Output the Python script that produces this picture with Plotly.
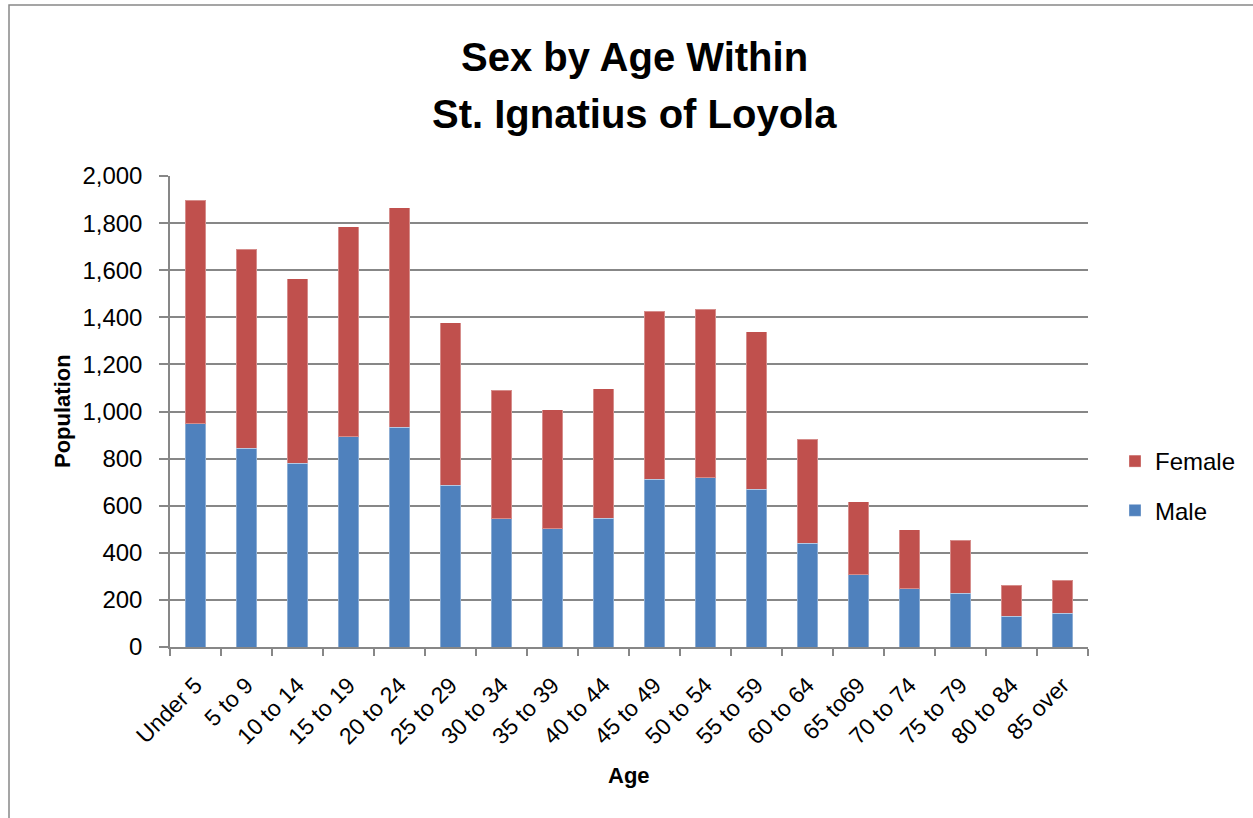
import plotly.graph_objects as go

categories = ["Under 5", "5 to 9", "10 to 14", "15 to 19", "20 to 24", "25 to 29",
              "30 to 34", "35 to 39", "40 to 44", "45 to 49", "50 to 54", "55 to 59",
              "60 to 64", "65 to69", "70 to 74", "75 to 79", "80 to 84", "85 over"]
male = [948, 845, 780, 892, 933, 687, 545, 502, 546, 712, 718, 670, 440, 307, 248, 228, 130, 143]
female = [949, 845, 783, 893, 933, 689, 546, 506, 550, 713, 717, 669, 443, 309, 249, 225, 132, 140]

title_lines = ["Sex by Age Within", "St. Ignatius of Loyola"]
y_ticks = [0, 200, 400, 600, 800, 1000, 1200, 1400, 1600, 1800, 2000]

FONT = "Liberation Sans, Arial, sans-serif"
GRID = "#878787"

fig = go.Figure()
fig.add_trace(go.Bar(x=categories, y=male, name="Male", legendgroup="m", legendrank=2,
                     marker=dict(color="#4F81BD", line=dict(color="rgba(255,255,255,0.35)", width=1))))
fig.add_trace(go.Bar(x=categories, y=female, name="Female", legendgroup="f", legendrank=1,
                     marker=dict(color="#C0504D", line=dict(color="rgba(255,255,255,0.35)", width=1))))

W, H = 1253, 818
L, R, T, B = 170, 1088, 176, 647
pw, ph = R - L, B - T

def px2x(p):
    return (p - L) / pw

def px2y(p):
    return (B - p) / ph

annotations = []
for txt, yp in zip(title_lines, [57, 114]):
    annotations.append(dict(text=f"<b>{txt}</b>", x=px2x(634), y=px2y(yp), xref="paper", yref="paper",
                            xanchor="center", yanchor="middle", showarrow=False,
                            font=dict(family=FONT, size=40, color="#000")))
annotations.append(dict(text="<b>Population</b>", x=px2x(62), y=px2y(411), xref="paper", yref="paper",
                        xanchor="center", yanchor="middle", showarrow=False, textangle=-90,
                        font=dict(family=FONT, size=22, color="#000")))
annotations.append(dict(text="<b>Age</b>", x=px2x(629), y=px2y(775), xref="paper", yref="paper",
                        xanchor="center", yanchor="middle", showarrow=False,
                        font=dict(family=FONT, size=22, color="#000")))

fig.update_layout(
    width=W, height=H,
    margin=dict(l=L, r=W - R, t=T, b=H - B, autoexpand=False),
    paper_bgcolor="white", plot_bgcolor="white",
    barmode="stack", bargap=0.6,
    font=dict(family=FONT, size=20, color="#000"),
    annotations=annotations,
    showlegend=True,
    legend=dict(x=px2x(1115), y=px2y(439), xanchor="left", yanchor="top",
                traceorder="grouped", tracegroupgap=15, itemwidth=30,
                font=dict(family=FONT, size=24, color="#000"), bgcolor="rgba(0,0,0,0)"),
    shapes=[dict(type="rect", xref="paper", yref="paper",
                 x0=px2x(9), x1=px2x(1270), y0=px2y(5), y1=px2y(840),
                 line=dict(color="#888888", width=1.5), fillcolor="rgba(0,0,0,0)", layer="below")],
)

fig.update_yaxes(range=[0, 2000], tickvals=y_ticks, tickformat=",d",
                 showgrid=True, gridcolor=GRID, gridwidth=1.5,
                 showline=True, linecolor=GRID, linewidth=1.5,
                 ticks="outside", ticklen=9, tickcolor=GRID, tickwidth=1.5,
                 ticklabelstandoff=12,
                 tickfont=dict(family=FONT, size=24, color="#000"), zeroline=False)
fig.update_xaxes(showline=True, linecolor=GRID, linewidth=1.5, tickangle=-45,
                 ticks="outside", ticklen=7, tickcolor=GRID, tickwidth=1.5, tickson="boundaries",
                 ticklabelstandoff=14,
                 tickfont=dict(family=FONT, size=23, color="#000"), showgrid=False)

fig.write_html("out.html", config={"displayModeBar": False},
               post_script="document.body.style.margin='0px';")
